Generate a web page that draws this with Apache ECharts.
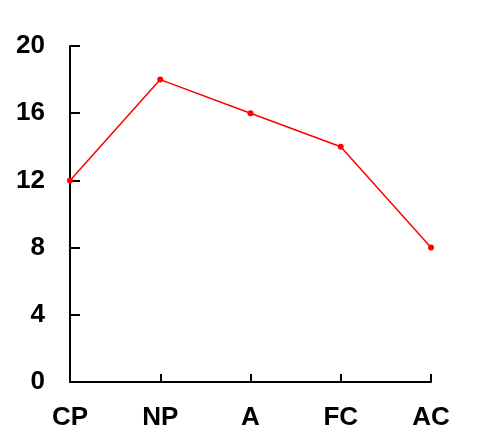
<!DOCTYPE html>
<html><head><meta charset="utf-8">
<script src="https://cdn.jsdelivr.net/npm/echarts@6/dist/echarts.min.js"></script>
<style>html,body{margin:0;padding:0;background:#fff}#c{width:499px;height:448px}</style>
</head><body><div id="c"></div>
<script>
const categories = ['CP', 'NP', 'A', 'FC', 'AC'];
const values = [12, 18, 16, 14, 8];
const yTicks = [0, 4, 8, 12, 16, 20];

const chart = echarts.init(document.getElementById('c'), null, {renderer: 'canvas'});
chart.setOption({
  animation: false,
  backgroundColor: '#fff',
  grid: {left: 70, right: 68, top: 46, bottom: 66, containLabel: false},
  xAxis: {
    type: 'category',
    data: categories,
    boundaryGap: false,
    axisLine: {lineStyle: {color: '#000', width: 2}},
    axisTick: {show: true, inside: true, length: 8, lineStyle: {color: '#000', width: 2}},
    axisLabel: {color: '#000', fontSize: 26, fontWeight: 'bold', fontFamily: 'Liberation Sans, Arial', margin: 23, interval: 0},
    splitLine: {show: false}
  },
  yAxis: {
    type: 'value',
    min: yTicks[0], max: yTicks[yTicks.length - 1], interval: 4,
    axisLine: {show: true, lineStyle: {color: '#000', width: 2}},
    axisTick: {show: true, inside: true, length: 10, lineStyle: {color: '#000', width: 2}},
    axisLabel: {color: '#000', fontSize: 26, fontWeight: 'bold', fontFamily: 'Liberation Sans, Arial', margin: 25},
    splitLine: {show: false}
  },
  series: [{
    type: 'line',
    data: values,
    symbol: 'circle',
    symbolSize: 6,
    itemStyle: {color: '#ff0000'},
    lineStyle: {color: '#ff0000', width: 1.5}
  }]
});
</script></body></html>
